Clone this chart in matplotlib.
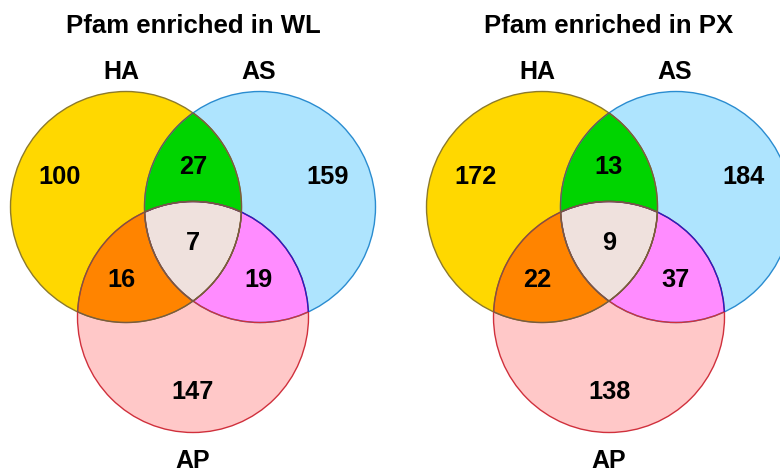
import numpy as np
import matplotlib
matplotlib.use("Agg")
import matplotlib.pyplot as plt
from matplotlib.patches import Circle, Polygon

plt.rcParams['font.family'] = ['Liberation Sans', 'DejaVu Sans']

# --- data ---
titles = ["Pfam enriched in WL", "Pfam enriched in PX"]
set_names = ["HA", "AS", "AP"]
# region order: HA only, AS only, AP only, HA&AS, HA&AP, AS&AP, HA&AS&AP
wl_counts = [100, 159, 147, 27, 16, 19, 7]
px_counts = [172, 184, 138, 13, 22, 37, 9]
panels = [wl_counts, px_counts]

# --- style ---
fill_cols = ["#FFD800", "#AEE4FE", "#FFC8C8"]
edge_cols = ["#8C7A2C", "#2A8CD0", "#D0303C"]
pair_cols = {(0, 1): "#00D400", (0, 2): "#FF8400", (1, 2): "#FF8CFF"}
triple_col = "#EFE1DD"
inner_edge = "#7A5A40"

R = 115.5
# circle centres relative to panel centre x (pixel units, y downward)
offsets = [(-67, 207), (67, 207), (0, 317)]
panel_cx = [193, 609]


def region(centres, n=720):
    # polygon of the intersection of the given circles
    pts = []
    t = np.linspace(0, 2 * np.pi, n, endpoint=False)
    for cx, cy in centres:
        xs = cx + R * np.cos(t)
        ys = cy + R * np.sin(t)
        ok = np.ones(n, bool)
        for ox, oy in centres:
            ok &= (xs - ox) ** 2 + (ys - oy) ** 2 <= R ** 2 + 1e-6
        pts.append(np.column_stack([xs[ok], ys[ok]]))
    pts = np.vstack(pts)
    c = pts.mean(axis=0)
    ang = np.arctan2(pts[:, 1] - c[1], pts[:, 0] - c[0])
    return pts[np.argsort(ang)]


fig = plt.figure(figsize=(7.8, 4.74), dpi=100)
ax = fig.add_axes([0, 0, 1, 1])
ax.set_xlim(0, 780)
ax.set_ylim(474, 0)
ax.set_aspect('equal')
ax.axis('off')

for p, counts in enumerate(panels):
    cx0 = panel_cx[p]
    centres = [(cx0 + dx, dy) for dx, dy in offsets]

    for i, (cx, cy) in enumerate(centres):
        ax.add_patch(Circle((cx, cy), R, facecolor=fill_cols[i], edgecolor='none', zorder=1))
    for (i, j), col in pair_cols.items():
        poly = region([centres[i], centres[j]])
        ax.add_patch(Polygon(poly, closed=True, facecolor=col, edgecolor='none', zorder=2))
    tri = region(centres)
    ax.add_patch(Polygon(tri, closed=True, facecolor=triple_col, edgecolor='none', zorder=3))

    for i, (cx, cy) in enumerate(centres):
        ax.add_patch(Circle((cx, cy), R, facecolor='none', edgecolor=edge_cols[i], lw=1.0, zorder=4))

    # AS arc inside AP is red, AP arc inside AS is blue
    clip_ap = Circle(centres[2], R, transform=ax.transData)
    clip_as = Circle(centres[1], R, transform=ax.transData)
    arc1 = Circle(centres[1], R, facecolor='none', edgecolor=edge_cols[2], lw=1.0, zorder=4.5)
    ax.add_patch(arc1)
    arc1.set_clip_path(clip_ap)
    arc2 = Circle(centres[2], R, facecolor='none', edgecolor='#2020C8', lw=1.0, zorder=4.5)
    ax.add_patch(arc2)
    arc2.set_clip_path(clip_as)

    for (i, j) in [(0, 1), (0, 2)]:
        poly = region([centres[i], centres[j]])
        ax.add_patch(Polygon(poly, closed=True, facecolor='none', edgecolor=inner_edge, lw=0.9, zorder=5))
    ax.add_patch(Polygon(tri, closed=True, facecolor='none', edgecolor=inner_edge, lw=0.9, zorder=5))

    # counts
    spots = [(cx0 - 133, 177), (cx0 + 135, 177), (cx0, 392),
             (cx0, 167), (cx0 - 72, 280), (cx0 + 66, 280), (cx0, 243)]
    for (x, y), v in zip(spots, counts):
        ax.text(x, y, str(v), ha='center', va='center', fontsize=18.3,
                fontweight='bold', zorder=6)

    # set labels
    label_pos = [(cx0 - 72, 72), (cx0 + 66, 72), (cx0, 461)]
    for (x, y), name in zip(label_pos, set_names):
        ax.text(x, y, name, ha='center', va='center', fontsize=18,
                fontweight='bold', zorder=6)

    ax.text(cx0, 26, titles[p], ha='center', va='center', fontsize=18.5,
            fontweight='bold', zorder=6)

fig.savefig("out.png", dpi=100)
